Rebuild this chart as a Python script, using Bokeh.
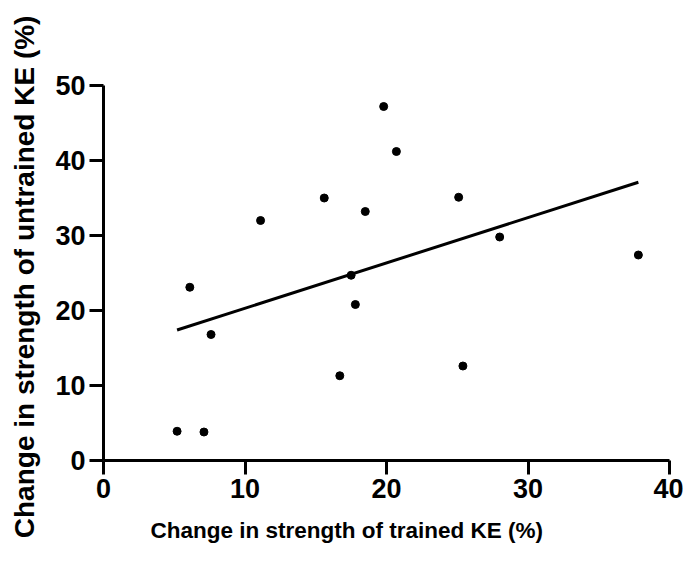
from bokeh.plotting import figure
from bokeh.models import Range1d, Title, FixedTicker
from bokeh.embed import file_html
from bokeh.resources import INLINE

# Data
trained = [5.2, 7.1, 6.1, 7.6, 11.1, 15.6, 16.7, 17.5, 17.8, 18.5, 19.8, 20.7, 25.1, 25.4, 28.0, 37.8]
untrained = [3.9, 3.8, 23.1, 16.8, 32.0, 35.0, 11.3, 24.7, 20.8, 33.2, 47.2, 41.2, 35.1, 12.6, 29.8, 27.4]
fit_x = [5.2, 37.8]
fit_y = [17.4, 37.1]
x_ticks = [0, 10, 20, 30, 40]
y_ticks = [0, 10, 20, 30, 40, 50]

x_title = "Change in strength of trained KE (%)"
y_title = "Change in strength of untrained  KE (%)"

FONT = "Liberation Sans"

p = figure(width=683, height=549, output_backend="svg", toolbar_location=None,
           x_range=Range1d(0, 40), y_range=Range1d(0, 50),
           min_border_left=103, min_border_right=14, min_border_top=85, min_border_bottom=89)
p.outline_line_color = None
p.grid.visible = False
p.background_fill_color = "white"
p.border_fill_color = "white"

p.line(fit_x, fit_y, line_color="black", line_width=3)
p.scatter(trained, untrained, size=8, fill_color="black", line_color="black")

for ax, ticks in ((p.xaxis, x_ticks), (p.yaxis, y_ticks)):
    ax.ticker = FixedTicker(ticks=ticks)
    ax.axis_line_width = 3
    ax.axis_line_color = "black"
    ax.major_tick_line_width = 3
    ax.major_tick_line_color = "black"
    ax.major_tick_out = 14
    ax.major_tick_in = 0
    ax.minor_tick_line_color = None
    ax.major_label_text_font = FONT
    ax.major_label_text_font_style = "bold"
    ax.major_label_text_font_size = "27px"
    ax.major_label_text_color = "black"
    ax.major_label_standoff = 4

p.yaxis.axis_label = y_title
p.yaxis.axis_label_text_font = FONT
p.yaxis.axis_label_text_font_style = "bold"
p.yaxis.axis_label_text_font_size = "28px"
p.yaxis.axis_label_text_color = "black"
p.yaxis.axis_label_standoff = 12

# x-axis title, left-shifted like the reference; an empty first line pads it downward
t = Title(text="\n" + x_title, align="left", vertical_align="top", offset=47,
          text_font=FONT, text_font_style="bold", text_font_size="22.5px",
          text_color="black", text_line_height=0.7, standoff=0)
p.add_layout(t, "below")

open("out.html", "w").write(file_html(p, INLINE))
